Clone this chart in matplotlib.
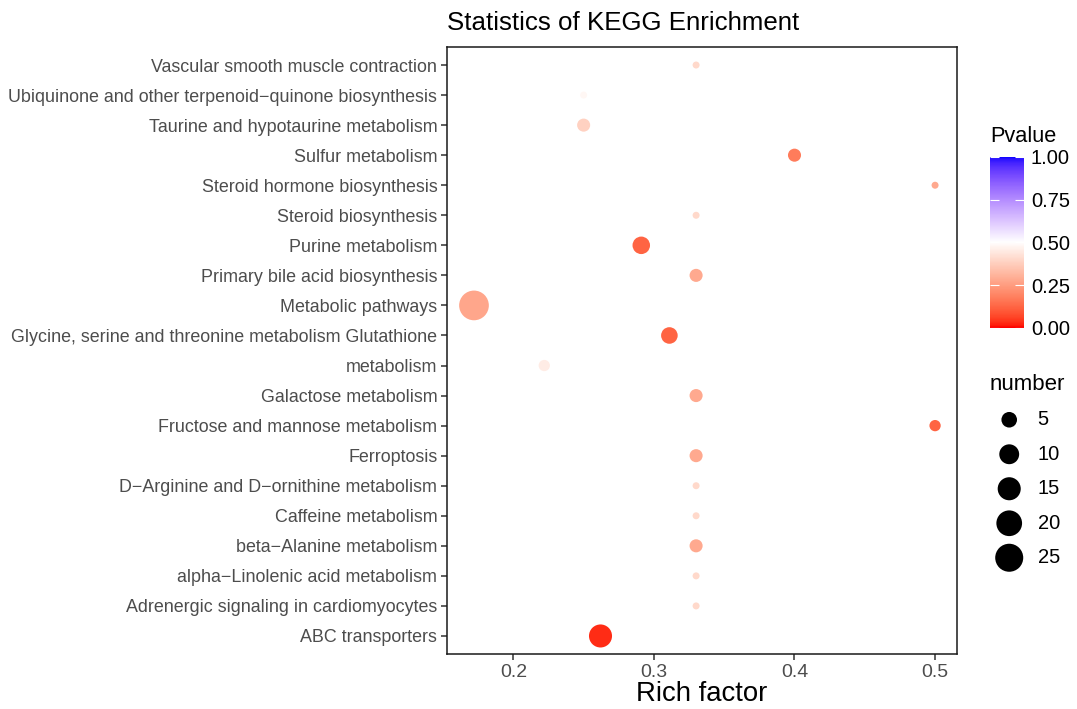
import numpy as np
import matplotlib
matplotlib.use("Agg")
from matplotlib import pyplot as plt
import matplotlib.colors as mcolors

plt.rcParams['font.family'] = ['Liberation Sans', 'DejaVu Sans']

# pathways, bottom to top as drawn
pathways = [
  "ABC transporters",
  "Adrenergic signaling in cardiomyocytes",
  "alpha\u2212Linolenic acid metabolism",
  "beta\u2212Alanine metabolism",
  "Caffeine metabolism",
  "D\u2212Arginine and D\u2212ornithine metabolism",
  "Ferroptosis",
  "Fructose and mannose metabolism",
  "Galactose metabolism",
  "metabolism",
  "Glycine, serine and threonine metabolism Glutathione",
  "Metabolic pathways",
  "Primary bile acid biosynthesis",
  "Purine metabolism",
  "Steroid biosynthesis",
  "Steroid hormone biosynthesis",
  "Sulfur metabolism",
  "Taurine and hypotaurine metabolism",
  "Ubiquinone and other terpenoid\u2212quinone biosynthesis",
  "Vascular smooth muscle contraction",
]
rich_factor = [0.262, 0.33, 0.33, 0.33, 0.33, 0.33, 0.33, 0.50, 0.33, 0.222,
               0.311, 0.172, 0.33, 0.291, 0.33, 0.50, 0.40, 0.25, 0.25, 0.33]
number = [15, 1, 1, 3, 1, 1, 3, 2, 3, 2,
          6, 29, 3, 7, 1, 1, 3, 3, 1, 1]
pvalue = [0.03, 0.40, 0.40, 0.28, 0.40, 0.40, 0.28, 0.12, 0.28, 0.45,
          0.12, 0.27, 0.28, 0.12, 0.40, 0.28, 0.17, 0.38, 0.48, 0.40]

size_breaks = [5, 10, 15, 20, 25]
p_ticks = [0.0, 0.25, 0.5, 0.75, 1.0]
x_ticks = [0.2, 0.3, 0.4, 0.5]


# ggplot style gradient2 (red - white - blue), interpolated in CIELAB
def to_lab(rgb):
  rgb = np.asarray(rgb, float)
  lin = np.where(rgb > 0.04045, ((rgb + 0.055) / 1.055) ** 2.4, rgb / 12.92)
  m = np.array([[0.4124, 0.3576, 0.1805],
                [0.2126, 0.7152, 0.0722],
                [0.0193, 0.1192, 0.9505]])
  xyz = m @ lin / np.array([0.95047, 1.0, 1.08883])
  f = np.where(xyz > 0.008856, np.cbrt(xyz), 7.787 * xyz + 16 / 116)
  return np.array([116 * f[1] - 16, 500 * (f[0] - f[1]), 200 * (f[1] - f[2])])

def from_lab(lab):
  L, a, b = lab
  fy = (L + 16) / 116
  fx = fy + a / 500
  fz = fy - b / 200
  f = np.array([fx, fy, fz])
  xyz = np.where(f ** 3 > 0.008856, f ** 3, (f - 16 / 116) / 7.787)
  xyz = xyz * np.array([0.95047, 1.0, 1.08883])
  m = np.array([[3.2406, -1.5372, -0.4986],
                [-0.9689, 1.8758, 0.0415],
                [0.0557, -0.2040, 1.0570]])
  lin = m @ xyz
  rgb = np.where(lin > 0.0031308, 1.055 * np.clip(lin, 0, None) ** (1 / 2.4) - 0.055, 12.92 * lin)
  return np.clip(rgb, 0, 1)

anchors = [to_lab((1, 0, 0)), to_lab((1, 1, 1)), to_lab((0, 0, 1))]
cols = []
for t in np.linspace(0, 1, 256):
  if t <= 0.5:
    lab = anchors[0] + (anchors[1] - anchors[0]) * (t / 0.5)
  else:
    lab = anchors[1] + (anchors[2] - anchors[1]) * ((t - 0.5) / 0.5)
  cols.append(from_lab(lab))
cmap = mcolors.ListedColormap(cols)
norm = mcolors.Normalize(vmin=0, vmax=1)

# area scaling like scale_size(): diameter in px
nmin, nmax = min(number), max(number)
def diam_px(n):
  return 7.0 + 22.7 * np.sqrt((np.asarray(n, float) - nmin) / (nmax - nmin))

def marker_area(n):
  return (diam_px(n) * 0.72) ** 2

fig = plt.figure(figsize=(10.77, 7.09), dpi=100)
ax = fig.add_axes([447 / 1077, 1 - 654 / 709, 510 / 1077, 607 / 709])

ypos = np.arange(len(pathways))
ax.scatter(rich_factor, ypos, s=marker_area(number), c=pvalue, cmap=cmap, norm=norm,
           linewidths=0, zorder=3)

ax.set_yticks(ypos)
ax.set_yticklabels(pathways)
ax.set_ylim(-0.6, len(pathways) - 0.4)
ax.set_xticks(x_ticks)
ax.set_xticklabels([f"{v:g}" for v in x_ticks])
ax.set_xlim(0.1528, 0.5156)
ax.tick_params(axis='both', length=4, width=1.1, color='#333333', labelcolor='#4D4D4D',
               pad=3)
ax.tick_params(axis='y', labelsize=12.9)
ax.tick_params(axis='x', labelsize=14)
for sp in ax.spines.values():
  sp.set_linewidth(1.1)
  sp.set_color('#1a1a1a')
ax.set_xlabel("Rich factor", fontsize=19.8, labelpad=0)
ax.set_title("Statistics of KEGG Enrichment", loc='left', fontsize=18.6, pad=12)

# colour bar
cax = fig.add_axes([990 / 1077, 1 - 328 / 709, 34 / 1077, 171 / 709])
grad = np.linspace(0, 1, 300).reshape(-1, 1)
cax.imshow(grad, aspect='auto', cmap=cmap, norm=norm, origin='lower', extent=(0, 1, 0, 1))
cax.set_xticks([])
cax.set_yticks(p_ticks)
cax.set_yticklabels([f"{v:.2f}" for v in p_ticks])
cax.yaxis.set_ticks_position('both')
cax.tick_params(axis='y', direction='in', length=6.5, width=0.8, color='white',
                labelleft=False, labelright=True, labelsize=14.5, pad=5)
for sp in cax.spines.values():
  sp.set_visible(False)
fig.text(990 / 1077, 1 - 136 / 709, "Pvalue", fontsize=15.7, va='center', ha='left')

# size legend
lax = fig.add_axes([986 / 1077, 1 - 575 / 709, 86 / 1077, 172.5 / 709])
lpos = np.arange(len(size_breaks))
lax.scatter([0.27] * len(size_breaks), lpos, s=marker_area(size_breaks), c='black', linewidths=0)
for i, b in enumerate(size_breaks):
  lax.text(0.6, lpos[i], str(b), va='center', ha='left', fontsize=14.5)
lax.set_xlim(0, 1)
lax.set_ylim(len(size_breaks) - 0.5, -0.5)
lax.axis('off')
fig.text(990 / 1077, 1 - 384 / 709, "number", fontsize=16, va='center', ha='left')

fig.savefig("out.png", dpi=100)
